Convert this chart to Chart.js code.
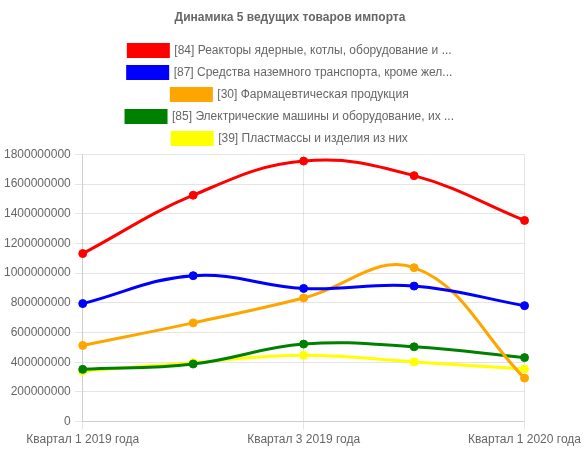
<!DOCTYPE html>
<html>
<head>
<meta charset="utf-8">
<script src="https://cdn.jsdelivr.net/npm/chart.js@4/dist/chart.umd.min.js"></script>
<style>
  body { margin: 0; background: #fff; }
  #wrap { width: 584px; height: 450px; }
</style>
</head>
<body>
<div id="wrap"><canvas id="importChart" width="584" height="450"></canvas></div>
<script>
// Quarters on the x axis
const quarters = ['Квартал 1 2019 года', 'Квартал 2 2019 года', 'Квартал 3 2019 года', 'Квартал 4 2019 года', 'Квартал 1 2020 года'];

// Series names (as shown in the legend)
const seriesNames = [
    '[84] Реакторы ядерные, котлы, оборудование и ...',
    '[87] Средства наземного транспорта, кроме жел...',
    '[30] Фармацевтическая продукция',
    '[85] Электрические машины и оборудование, их ...',
    '[39] Пластмассы и изделия из них'
];
const seriesColors = ['#ff0000', '#0000ff', '#ffa500', '#008000', '#ffff00'];

// Values per series
const reactors = [1132000000, 1525000000, 1755000000, 1657000000, 1355000000];
const vehicles = [795000000, 983000000, 897000000, 913000000, 781000000];
const pharma = [513000000, 665000000, 833000000, 1037000000, 293000000];
const electrical = [352000000, 388000000, 522000000, 504000000, 431000000];
const plastics = [340000000, 397000000, 447000000, 402000000, 354000000];
const seriesValues = [reactors, vehicles, pharma, electrical, plastics];

// Y axis range
const yMin = 0;
const yMax = 1800000000;
const yStep = 200000000;

Chart.defaults.font.family = "'Liberation Sans', Arial, sans-serif";
Chart.defaults.font.size = 12;
Chart.defaults.color = '#666';

const ctx = document.getElementById('importChart');
new Chart(ctx, {
    type: 'line',
    data: {
        labels: quarters,
        datasets: seriesNames.map((name, i) => ({
            label: name,
            data: seriesValues[i],
            borderColor: seriesColors[i],
            backgroundColor: seriesColors[i],
            pointBackgroundColor: seriesColors[i],
            pointBorderColor: seriesColors[i],
            borderWidth: 3,
            pointRadius: 4,
            pointBorderWidth: 1,
            tension: 0.4,
            fill: false
        }))
    },
    options: {
        responsive: false,
        animation: false,
        layout: { padding: { top: 0, right: 4, bottom: 0, left: 0 } },
        plugins: {
            title: {
                display: true,
                text: 'Динамика 5 ведущих товаров импорта',
                color: '#666',
                font: { size: 12, weight: 'bold' },
                padding: { top: 10, bottom: 10 }
            },
            legend: {
                position: 'top',
                labels: {
                    boxWidth: 40,
                    boxHeight: 12,
                    padding: 10
                }
            },
            tooltip: { enabled: false }
        },
        scales: {
            x: {
                grid: { color: 'rgba(0,0,0,0.1)' },
                ticks: { maxRotation: 0, autoSkip: true, autoSkipPadding: 30 }
            },
            y: {
                min: yMin,
                max: yMax,
                ticks: {
                    stepSize: yStep,
                    padding: 4,
                    callback: v => String(v)
                },
                grid: { color: 'rgba(0,0,0,0.1)' }
            }
        }
    }
});
</script>
</body>
</html>
